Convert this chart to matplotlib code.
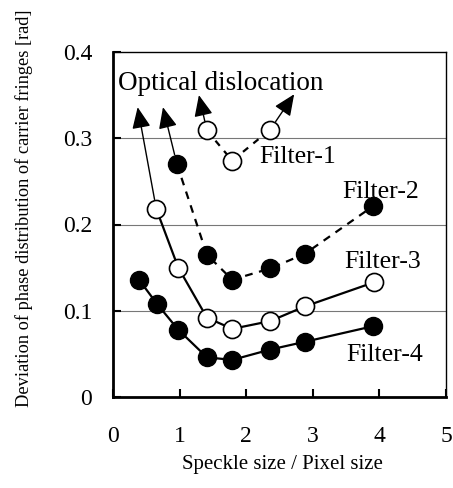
import numpy as np
import matplotlib
matplotlib.use("Agg")
import matplotlib.pyplot as plt

plt.rcParams['font.family'] = ['Liberation Serif', 'DejaVu Serif']

# data
x_f1 = [1.41, 1.79, 2.36]
y_f1 = [0.309, 0.274, 0.310]
x_f2 = [0.96, 1.41, 1.79, 2.36, 2.88, 3.90]
y_f2 = [0.270, 0.165, 0.136, 0.149, 0.166, 0.221]
x_f3 = [0.65, 0.98, 1.41, 1.79, 2.36, 2.88, 3.92]
y_f3 = [0.218, 0.150, 0.092, 0.079, 0.088, 0.105, 0.133]
x_f4 = [0.39, 0.66, 0.98, 1.41, 1.79, 2.36, 2.88, 3.90]
y_f4 = [0.136, 0.108, 0.078, 0.046, 0.043, 0.055, 0.064, 0.082]

# optical dislocation arrows: (start point, arrow tip)
arrow_start = [(0.65, 0.218), (0.96, 0.270), (1.41, 0.309), (2.36, 0.310)]
arrow_tip = [(0.37, 0.336), (0.75, 0.336), (1.29, 0.350), (2.72, 0.351)]

labels = ['Filter-1', 'Filter-2', 'Filter-3', 'Filter-4']
label_pos = [(2.19, 0.278), (3.44, 0.238), (3.48, 0.157), (3.51, 0.049)]

fig = plt.figure(figsize=(4.53, 4.88), dpi=100)
ax = fig.add_axes([113/453, 1 - 397/488, 333/453, 345/488])

ax.set_xlim(0, 5)
ax.set_ylim(0, 0.4)

for y in [0.1, 0.2, 0.3]:
    ax.axhline(y, color='#777777', lw=0.8, zorder=0)

ms = 13
ax.plot(x_f4, y_f4, '-o', color='k', lw=1.6, ms=ms, mfc='k', mec='k', zorder=3)
ax.plot(x_f3, y_f3, '-o', color='k', lw=1.6, ms=ms, mfc='white', mec='k', mew=1.2, zorder=3)
ax.plot(x_f2, y_f2, '--o', color='k', lw=1.6, ms=ms, mfc='k', mec='k', dashes=(3.5, 3), zorder=3)
ax.plot(x_f1, y_f1, '--o', color='k', lw=1.6, ms=ms, mfc='white', mec='k', mew=1.2, dashes=(3, 3), zorder=3)

for s, t in zip(arrow_start, arrow_tip):
    ax.annotate('', xy=t, xytext=s,
                arrowprops=dict(arrowstyle='-|>,head_length=0.5,head_width=0.22',
                                color='k', lw=1, mutation_scale=26,
                                shrinkA=7, shrinkB=0), zorder=2)

ax.text(0.075, 0.364, 'Optical dislocation', fontsize=19.5, ha='left', va='center')
for lab, (lx, ly) in zip(labels, label_pos):
    ax.text(lx, ly, lab, fontsize=18.5, ha='left', va='center')

ax.set_xticks([0, 1, 2, 3, 4, 5])
ax.set_xticklabels(['0', '1', '2', '3', '4', '5'])
ax.set_yticks([0, 0.1, 0.2, 0.3, 0.4])
ax.set_yticklabels(['0', '0.1', '0.2', '0.3', '0.4'])
ax.tick_params(axis='x', direction='in', length=6, width=1.5, pad=21, labelsize=17)
ax.tick_params(axis='y', direction='in', length=6, width=1.5, pad=15, labelsize=17)

for side in ['left', 'bottom']:
    ax.spines[side].set_linewidth(2)
for side in ['top', 'right']:
    ax.spines[side].set_linewidth(1)

ax.set_xlabel('Speckle size / Pixel size', fontsize=15, va='center')
ax.xaxis.set_label_coords(0.51, -0.197)
ax.set_ylabel('Deviation of phase distribution of carrier fringes [rad]', fontsize=13.2, va='center')
ax.yaxis.set_label_coords(-0.267, 0.548)

fig.savefig('out.png', dpi=100)
